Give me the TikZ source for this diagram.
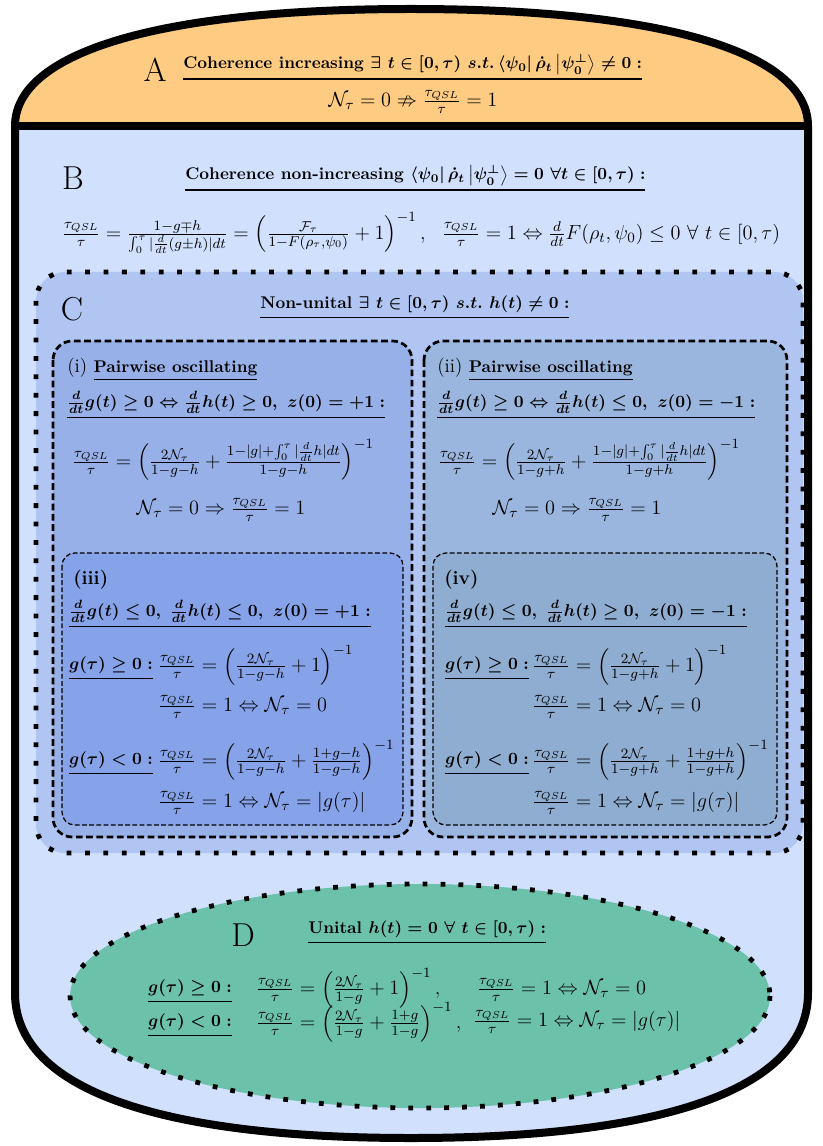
\RequirePackage{fix-cm}
\documentclass[tikz,border=0pt]{standalone}
\usepackage{amsmath,amssymb}

\definecolor{capOrange}{RGB}{253,203,130}
\definecolor{bodyBlue}{RGB}{209,224,253}
\definecolor{nonUnital}{RGB}{177,197,243}
\definecolor{panelOne}{RGB}{151,176,232}
\definecolor{panelTwo}{RGB}{154,182,222}
\definecolor{panelThree}{RGB}{134,162,232}
\definecolor{panelFour}{RGB}{142,173,208}
\definecolor{unitalGreen}{RGB}{108,193,171}

\newcommand{\tqsl}{\frac{\tau_{QSL}}{\tau}}
\newcommand{\streep}[1]{\vtop{\hbox{#1}\kern2.2pt\hrule height 0.8pt}}

\begin{document}
\begin{tikzpicture}[x=0.625pt,y=-0.625pt]

% --- Stijldefinities ---
\tikzset{
    outerWall/.style={
        draw=black,
        line width=5pt
    },
    nonUnitalBox/.style={
        fill=nonUnital,
        draw=black,
        line width=3pt,
        dash pattern=on 3pt off 8.5pt,
        rounded corners=18pt
    },
    pairBox/.style={
        draw=black,
        line width=1.7pt,
        dash pattern=on 4.2pt off 2.2pt,
        rounded corners=12pt
    },
    subBox/.style={
        draw=black,
        line width=0.8pt,
        dash pattern=on 3pt off 1.5pt,
        rounded corners=8pt
    },
    unitalBox/.style={
        fill=unitalGreen,
        draw=black,
        line width=3pt,
        dash pattern=on 3pt off 8.2pt
    },
    letterLabel/.style={
        font=\huge,
        inner sep=0pt
    },
    headLabel/.style={
        font=\fontsize{10.6}{12.7}\selectfont\bfseries\boldmath,
        anchor=west,
        inner sep=0pt
    },
    condLabel/.style={
        font=\fontsize{10.7}{13}\selectfont\bfseries\boldmath,
        anchor=west,
        inner sep=0pt
    },
    formulaLabel/.style={
        font=\fontsize{12.7}{15}\selectfont,
        anchor=west,
        inner sep=0pt
    }
}

\useasboundingbox (0,0) rectangle (823,1146);

% =========================================================
% Omhulsel: cilinder met oranje kap
% =========================================================

\fill[bodyBlue] (15,126) .. controls (15,55) and (150,9) .. (411,9)
    .. controls (672,9) and (808,55) .. (808,126) -- (808,993)
    .. controls (808,1090) and (661,1138) .. (411,1138)
    .. controls (161,1138) and (15,1090) .. (15,993) -- cycle;
\fill[capOrange] (15,126) .. controls (15,55) and (150,9) .. (411,9)
    .. controls (672,9) and (808,55) .. (808,126) -- cycle;
\draw[outerWall] (15,126) .. controls (15,55) and (150,9) .. (411,9)
    .. controls (672,9) and (808,55) .. (808,126) -- (808,993)
    .. controls (808,1090) and (661,1138) .. (411,1138)
    .. controls (161,1138) and (15,1090) .. (15,993) -- cycle;
\draw[outerWall] (15,126) -- (808,126);

% =========================================================
% Gebieden C, (i)--(iv) en D
% =========================================================

\draw[nonUnitalBox] (36,272) rectangle (803,853);

\draw[pairBox, fill=panelOne] (53,341) rectangle (412,837);
\draw[pairBox, fill=panelTwo] (424,341) rectangle (787,837);

\draw[subBox, fill=panelThree] (62,553) rectangle (403,825);
\draw[subBox, fill=panelFour] (433,553) rectangle (777,825);

\draw[unitalBox] (420,996) ellipse (350 and 112);

% =========================================================
% Teksten
% =========================================================

% A
\node[letterLabel] (letterA) at (155,70) {A};
\node[headLabel] (kopA) at (183,67) {\streep{Coherence increasing $\exists\ t\in[0,\tau)\ s.t.\,\langle\psi_0|\,\dot{\rho}_t\left|\psi_0^{\perp}\right\rangle\neq 0:$}};
\node[formulaLabel, anchor=center] (regelA) at (413,102) {$\mathcal{N}_\tau = 0 \nRightarrow \tqsl = 1$};

% B
\node[letterLabel] (letterB) at (73,178) {B};
\node[headLabel] (kopB) at (185,178) {\streep{Coherence non-increasing $\langle\psi_0|\,\dot{\rho}_t\left|\psi_0^{\perp}\right\rangle = 0\ \forall t\in[0,\tau):$}};
\node[formulaLabel] (formuleB) at (62,233) {$\tqsl = \frac{1-g\mp h}{\int_0^\tau|\frac{d}{dt}(g\pm h)|dt} = \left(\frac{\mathcal{F}_\tau}{1-F(\rho_\tau,\psi_0)}+1\right)^{-1},\ \ \tqsl = 1 \Leftrightarrow \frac{d}{dt}F(\rho_t,\psi_0)\leq 0\ \forall\ t\in[0,\tau)$};

% C
\node[letterLabel] (letterC) at (72,309) {C};
\node[headLabel] (kopC) at (260,307) {\streep{Non-unital $\exists\ t\in[0,\tau)\ s.t.\ h(t)\neq 0:$}};

% (i)
\node[headLabel] (titelI) at (67,369) {{\mdseries\large (i)} \streep{Pairwise oscillating}};
\node[condLabel] (voorwI) at (67,405) {\streep{$\frac{d}{dt}g(t)\geq 0\Leftrightarrow\frac{d}{dt}h(t)\geq 0,\ z(0)=+1:$}};
\node[formulaLabel] (formuleI) at (72,460) {$\tqsl = \left(\frac{2\mathcal{N}_\tau}{1-g-h}+\frac{1-|g|+\int_0^\tau|\frac{d}{dt}h|dt}{1-g-h}\right)^{-1}$};
\node[formulaLabel, anchor=center] (gevolgI) at (221,510) {$\mathcal{N}_\tau = 0 \Rightarrow \tqsl = 1$};

% (ii)
\node[headLabel] (titelII) at (437,369) {{\mdseries\large (ii)} \streep{Pairwise oscillating}};
\node[condLabel] (voorwII) at (437,405) {\streep{$\frac{d}{dt}g(t)\geq 0\Leftrightarrow\frac{d}{dt}h(t)\leq 0,\ z(0)=-1:$}};
\node[formulaLabel] (formuleII) at (438,460) {$\tqsl = \left(\frac{2\mathcal{N}_\tau}{1-g+h}+\frac{1-|g|+\int_0^\tau|\frac{d}{dt}h|dt}{1-g+h}\right)^{-1}$};
\node[formulaLabel, anchor=center] (gevolgII) at (577,510) {$\mathcal{N}_\tau = 0 \Rightarrow \tqsl = 1$};

% (iii)
\node[headLabel, font=\large\bfseries] (titelIII) at (73,580) {(iii)};
\node[condLabel] (voorwIII) at (69,614) {\streep{$\frac{d}{dt}g(t)\leq 0,\;\frac{d}{dt}h(t)\leq 0,\ z(0)=+1:$}};
\node[condLabel] (posIII) at (69,668) {\streep{$g(\tau)\geq 0:$}};
\node[formulaLabel] (posFormIII) at (158,665) {$\tqsl = \left(\frac{2\mathcal{N}_\tau}{1-g-h}+1\right)^{-1}$};
\node[formulaLabel] (posGevIII) at (158,707) {$\tqsl = 1\Leftrightarrow\mathcal{N}_\tau = 0$};
\node[condLabel] (negIII) at (69,763) {\streep{$g(\tau)<0:$}};
\node[formulaLabel] (negFormIII) at (158,760) {$\tqsl = \left(\frac{2\mathcal{N}_\tau}{1-g-h}+\frac{1+g-h}{1-g-h}\right)^{-1}$};
\node[formulaLabel] (negGevIII) at (158,803) {$\tqsl = 1\Leftrightarrow\mathcal{N}_\tau = |g(\tau)|$};

% (iv)
\node[headLabel, font=\large\bfseries] (titelIV) at (444,580) {(iv)};
\node[condLabel] (voorwIV) at (445,614) {\streep{$\frac{d}{dt}g(t)\leq 0,\;\frac{d}{dt}h(t)\geq 0,\ z(0)=-1:$}};
\node[condLabel] (posIV) at (445,668) {\streep{$g(\tau)\geq 0:$}};
\node[formulaLabel] (posFormIV) at (532,665) {$\tqsl = \left(\frac{2\mathcal{N}_\tau}{1-g+h}+1\right)^{-1}$};
\node[formulaLabel] (posGevIV) at (532,707) {$\tqsl = 1\Leftrightarrow\mathcal{N}_\tau = 0$};
\node[condLabel] (negIV) at (445,763) {\streep{$g(\tau)<0:$}};
\node[formulaLabel] (negFormIV) at (532,760) {$\tqsl = \left(\frac{2\mathcal{N}_\tau}{1-g+h}+\frac{1+g+h}{1-g+h}\right)^{-1}$};
\node[formulaLabel] (negGevIV) at (532,803) {$\tqsl = 1\Leftrightarrow\mathcal{N}_\tau = |g(\tau)|$};

% D
\node[letterLabel] (letterD) at (243,935) {D};
\node[headLabel] (kopD) at (308,932) {\streep{Unital $h(t)=0\ \forall\ t\in[0,\tau):$}};
\node[condLabel] (posD) at (148,991) {\streep{$g(\tau)\geq 0:$}};
\node[formulaLabel] (posFormD) at (256,988) {$\tqsl = \left(\frac{2\mathcal{N}_\tau}{1-g}+1\right)^{-1},$};
\node[formulaLabel] (posGevD) at (477,990) {$\tqsl = 1\Leftrightarrow\mathcal{N}_\tau = 0$};
\node[condLabel] (negD) at (148,1025) {\streep{$g(\tau)<0:$}};
\node[formulaLabel] (negFormD) at (256,1022) {$\tqsl = \left(\frac{2\mathcal{N}_\tau}{1-g}+\frac{1+g}{1-g}\right)^{-1},$};
\node[formulaLabel] (negGevD) at (473,1022) {$\tqsl = 1\Leftrightarrow\mathcal{N}_\tau = |g(\tau)|$};

\end{tikzpicture}
\end{document}
